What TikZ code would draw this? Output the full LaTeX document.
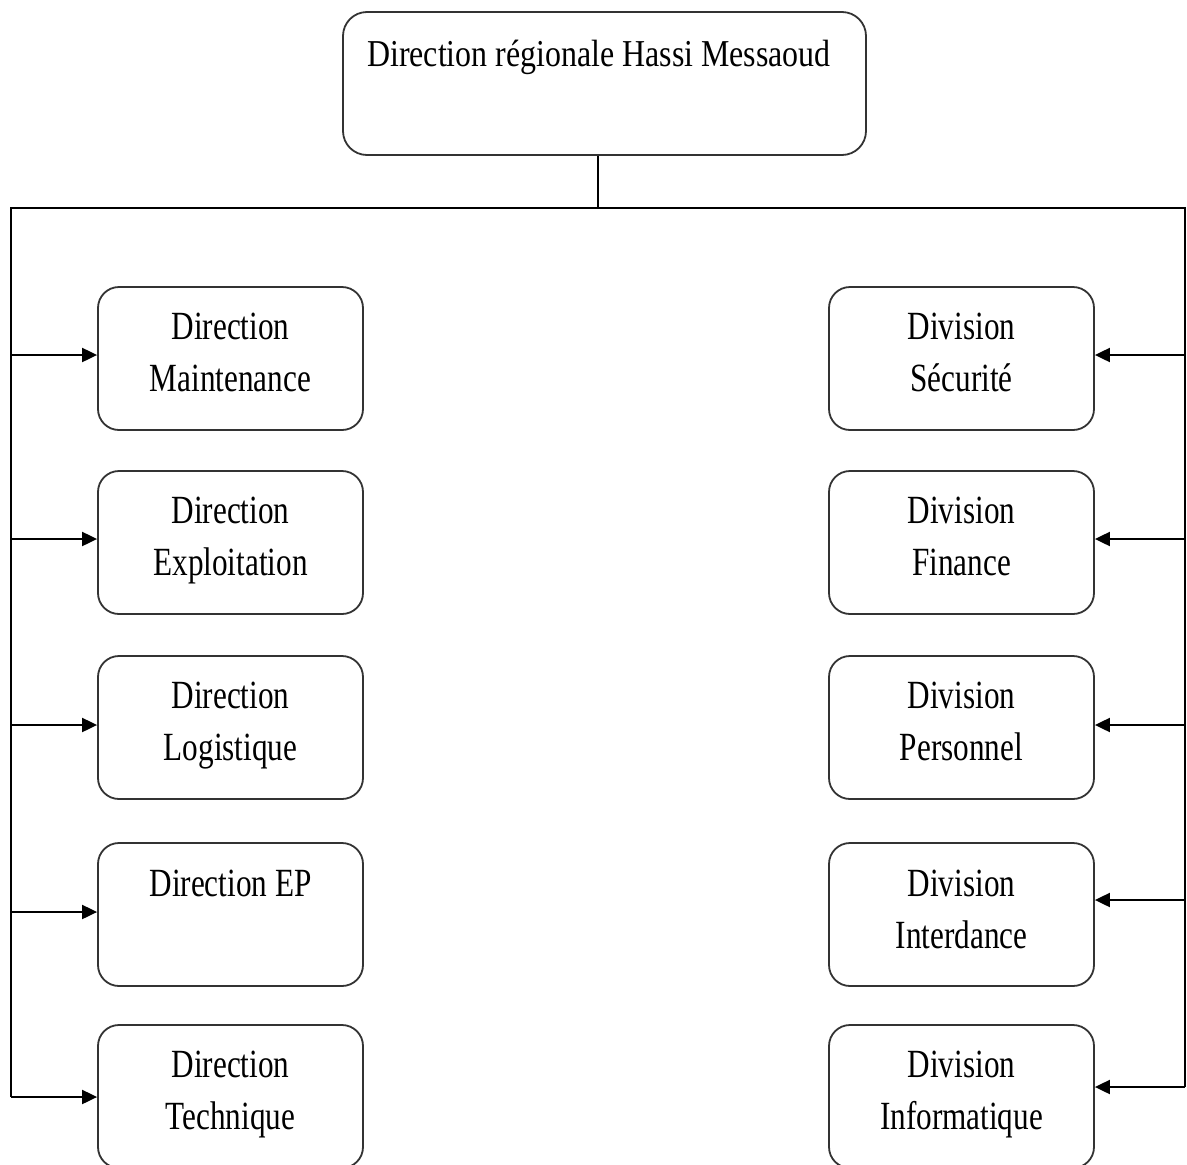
\documentclass[tikz,border=0pt]{standalone}
\usepackage{fontspec}
\setmainfont{Liberation Serif}
\newfontfamily\titlefont[FakeStretch=0.84]{Liberation Serif}
\newfontfamily\boxfont[FakeStretch=0.78]{Liberation Serif}
\usetikzlibrary{arrows.meta}
\begin{document}
\begin{tikzpicture}[x=1pt,y=-1pt,
  orgbox/.style={draw=black!80, line width=1.8pt, rounded corners=21pt,
    minimum width=265pt, minimum height=143pt, inner sep=0pt},
  topbox/.style={draw=black!80, line width=1.8pt, rounded corners=24pt,
    minimum width=523pt, minimum height=143pt, inner sep=0pt},
  txt/.style={anchor=base, inner sep=0pt, font=\boxfont\fontsize{40}{48}\selectfont},
  ttxt/.style={anchor=base, inner sep=0pt, font=\titlefont\fontsize{38}{46}\selectfont},
  conn/.style={draw=black, line width=2pt},
  arr/.style={conn, -{Triangle[length=15pt,width=14pt]}}]
\useasboundingbox (0,0) rectangle (1187,1165);
% top box
\node[topbox] (top) at (604.5,83.5) {};
\node[ttxt] (ttl) at ([xshift=-5.5pt,yshift=-55pt]top.north) {Direction régionale Hassi Messaoud};
% left boxes
\node[orgbox] (l1) at (230.5,358.5) {};
\node[orgbox] (l2) at (230.5,542.5) {};
\node[orgbox] (l3) at (230.5,727.5) {};
\node[orgbox] (l4) at (230.5,914.5) {};
\node[orgbox] (l5) at (230.5,1096.5) {};
% right boxes
\node[orgbox] (r1) at (961.5,358.5) {};
\node[orgbox] (r2) at (961.5,542.5) {};
\node[orgbox] (r3) at (961.5,727.5) {};
\node[orgbox] (r4) at (961.5,914.5) {};
\node[orgbox] (r5) at (961.5,1096.5) {};
% texts left
\node[txt] (l1a) at ([yshift=-53pt]l1.north) {Direction};
\node[txt] (l1b) at ([yshift=-105pt]l1.north) {Maintenance};
\node[txt] (l2a) at ([yshift=-53pt]l2.north) {Direction};
\node[txt] (l2b) at ([yshift=-105pt]l2.north) {Exploitation};
\node[txt] (l3a) at ([yshift=-53pt]l3.north) {Direction};
\node[txt] (l3b) at ([yshift=-105pt]l3.north) {Logistique};
\node[txt] (l4a) at ([yshift=-54pt]l4.north) {Direction EP};
\node[txt] (l5a) at ([yshift=-53pt]l5.north) {Direction};
\node[txt] (l5b) at ([yshift=-105pt]l5.north) {Technique};
% texts right
\node[txt] (r1a) at ([yshift=-53pt]r1.north) {Division};
\node[txt] (r1b) at ([yshift=-105pt]r1.north) {Sécurité};
\node[txt] (r2a) at ([yshift=-53pt]r2.north) {Division};
\node[txt] (r2b) at ([yshift=-105pt]r2.north) {Finance};
\node[txt] (r3a) at ([yshift=-53pt]r3.north) {Division};
\node[txt] (r3b) at ([yshift=-105pt]r3.north) {Personnel};
\node[txt] (r4a) at ([yshift=-54pt]r4.north) {Division};
\node[txt] (r4b) at ([yshift=-106pt]r4.north) {Interdance};
\node[txt] (r5a) at ([yshift=-53pt]r5.north) {Division};
\node[txt] (r5b) at ([yshift=-105pt]r5.north) {Informatique};
% trunk
\coordinate (ts) at ([xshift=-6.5pt]top.south);
\coordinate (jt) at (ts |- 0,208);
\coordinate (jl) at (11,208);
\coordinate (jr) at (1185,208);
\coordinate (al1) at (11,355);
\coordinate (al2) at (11,539);
\coordinate (al3) at (11,725);
\coordinate (al4) at (11,912);
\coordinate (al5) at (11,1097);
\coordinate (ar1) at (1185,355);
\coordinate (ar2) at (1185,539);
\coordinate (ar3) at (1185,725);
\coordinate (ar4) at (1185,900);
\coordinate (ar5) at (1185,1087);
\draw[conn] (ts) -- (jt);
\draw[conn, line join=miter] (al5) -- (jl) -- (jr) -- (ar5);
\foreach \i in {1,...,5}{
  \draw[arr] (al\i) -- (al\i -| l\i.west);
  \draw[arr] (ar\i) -- (ar\i -| r\i.east);
}
\end{tikzpicture}
\end{document}
